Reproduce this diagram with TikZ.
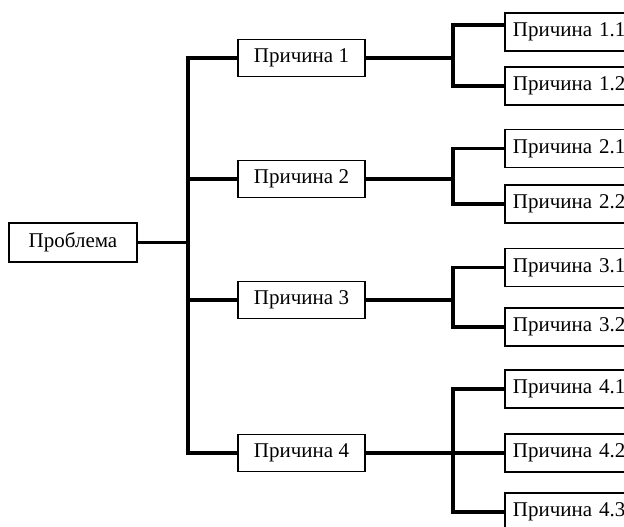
\documentclass[tikz,border=0pt]{standalone}
\usepackage{fontspec}
\setmainfont{Liberation Serif}
\usetikzlibrary{calc}
\begin{document}
\begin{tikzpicture}[x=1pt,y=-1pt,
  box/.style={draw,line width=1.8pt,fill=white,font=\fontsize{21}{24}\selectfont,inner sep=0pt},
  mbox/.style={box,minimum width=127pt,minimum height=37pt},
  rbox/.style={box,anchor=west,minimum height=38pt,text width=130pt,inner xsep=8pt,align=left},
  conn/.style={line width=3.2pt}]
\useasboundingbox (0,0) rectangle (624,527);
\clip (0,0) rectangle (624,527);
\coordinate (tk) at (188,0);
\coordinate (bk) at (453,0);
\node[box,minimum width=128pt,minimum height=39pt] (p) at (73,242.5) {Проблема};
\node[mbox] (c1) at (301.5,58) {Причина 1};
\node[mbox] (c2) at (301.5,179) {Причина 2};
\node[mbox] (c3) at (301.5,300) {Причина 3};
\node[mbox] (c4) at (301.5,453) {Причина 4};
\node[rbox] (r11) at (504,32) {Причина 1.1};
\node[rbox] (r12) at (504,86) {Причина 1.2};
\node[rbox] (r21) at (504,148.5) {Причина 2.1};
\node[rbox] (r22) at (504,204) {Причина 2.2};
\node[rbox] (r31) at (504,267.5) {Причина 3.1};
\node[rbox] (r32) at (504,327) {Причина 3.2};
\node[rbox] (r41) at (504,389) {Причина 4.1};
\node[rbox] (r42) at (504,453) {Причина 4.2};
\node[rbox] (r43) at (504,512) {Причина 4.3};
% trunk
\draw[conn] (c1.west) -- (c1.west -| tk) -- (c4.west -| tk) -- (c4.west);
\draw[conn] (c2.west) -- (c2.west -| tk);
\draw[conn] (c3.west) -- (c3.west -| tk);
\draw[conn] (p.east) -- (p.east -| tk);
% branches
\draw[conn] ($(r11.west)+(0,-7)$) -| (bk |- r12.west) -- (r12.west);
\draw[conn] (c1.east) -- (c1.east -| bk);
\draw[conn] (r21.west) -| (bk |- r22.west) -- (r22.west);
\draw[conn] (c2.east) -- (c2.east -| bk);
\draw[conn] (r31.west) -| (bk |- r32.west) -- (r32.west);
\draw[conn] (c3.east) -- (c3.east -| bk);
\draw[conn] (r41.west) -| (bk |- r43.west) -- (r43.west);
\draw[conn] (c4.east) -- (r42.west);
\end{tikzpicture}
\end{document}
